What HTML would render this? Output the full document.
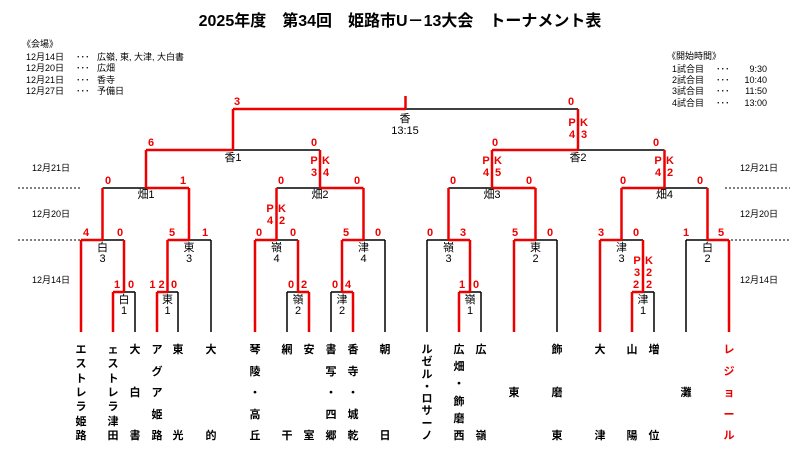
<!DOCTYPE html>
<html><head><meta charset="utf-8"><style>
html,body{margin:0;padding:0;background:#fff;}
svg{display:block;font-family:"Liberation Sans","Noto Sans CJK JP",sans-serif;}
.k{stroke:#000;stroke-width:1.5;fill:none}
.r{stroke:#e00;stroke-width:2.5;fill:none}
.s{fill:#e00;font-size:11px;font-weight:bold;text-anchor:middle}
.l{fill:#000;font-size:11px;text-anchor:middle}
.n{fill:#000;font-size:11px;text-anchor:middle;font-weight:bold}
.i{fill:#000;font-size:9px}
</style></head><body>
<svg width="800" height="456" viewBox="0 0 800 456" xmlns="http://www.w3.org/2000/svg">
<text x="400" y="26" style="font-size:16px;font-weight:bold;text-anchor:middle">2025年度　第34回　姫路市U－13大会　トーナメント表</text>
<g class="i">
<text x="22" y="47">《会場》</text>
<text x="26" y="60">12月14日</text><text x="76" y="60">･･･</text><text x="97" y="60">広嶺, 東, 大津, 大白書</text>
<text x="26" y="71">12月20日</text><text x="76" y="71">･･･</text><text x="97" y="71">広畑</text>
<text x="26" y="83">12月21日</text><text x="76" y="83">･･･</text><text x="97" y="83">香寺</text>
<text x="26" y="94">12月27日</text><text x="76" y="94">･･･</text><text x="97" y="94">予備日</text>
<text x="667" y="59">《開始時間》</text>
<text x="672" y="72">1試合目</text><text x="716" y="72">･･･</text><text x="767" y="72" text-anchor="end">9:30</text>
<text x="672" y="83">2試合目</text><text x="716" y="83">･･･</text><text x="767" y="83" text-anchor="end">10:40</text>
<text x="672" y="94">3試合目</text><text x="716" y="94">･･･</text><text x="767" y="94" text-anchor="end">11:50</text>
<text x="672" y="106">4試合目</text><text x="716" y="106">･･･</text><text x="767" y="106" text-anchor="end">13:00</text>
<text x="32" y="171">12月21日</text><text x="32" y="217">12月20日</text><text x="32" y="283">12月14日</text>
<text x="740" y="171">12月21日</text><text x="740" y="217">12月20日</text><text x="740" y="283">12月14日</text>
</g>
<g stroke="#000" stroke-width="1" stroke-dasharray="2,2">
<line x1="18" y1="188" x2="82" y2="188"/><line x1="18" y1="240" x2="82" y2="240"/>
<line x1="725" y1="188" x2="790" y2="188"/><line x1="727" y1="240" x2="790" y2="240"/>
</g>
<path class="k" d="M124 292H135M102.5 240H124M167.5 292H178M189 240H211M102.5 188H146M287 292H298M276.5 240H298M331 292H342M363.5 240H385M276.5 188H320M233 150H320M470 292H481M427 240H448.5M535.5 240H557M448.5 188H492M643 292H654M621.5 240H643M686 240H707.5M664.5 188H707.5M578 150H664.5M405.5 109H578
M135 292V332M178 292V332M211 240V332M287 292V332M331 292V332M385 240V332M427 240V332M481 292V332M557 240V332M654 292V332M686 240V332"/>
<path class="r" d="M113 292H124M81 240H102.5M157 292H167.5M167.5 240H189M146 188H189M298 292H309M255 240H276.5M342 292H353M342 240H363.5M320 188H363.5M146 150H233M459 292H470M448.5 240H470M514 240H535.5M492 188H535.5M632 292H643M600 240H621.5M707.5 240H729M621.5 188H664.5M492 150H578M233 109H405.5
M81 240V332M113 292V332M157 292V332M255 240V332M309 292V332M353 292V332M459 292V332M514 240V332M600 240V332M632 292V332M729 240V332
M124 240V292M167.5 240V292M298 240V292M342 240V292M470 240V292M643 240V292
M102.5 188V240M189 188V240M276.5 188V240M363.5 188V240M448.5 188V240M535.5 188V240M621.5 188V240M707.5 188V240
M146 150V188M320 150V188M492 150V188M664.5 150V188M233 109V150M578 109V150M405.5 96V109"/>
<g class="s">
<text x="117" y="288">1</text><text x="131" y="288">0</text>
<text x="86" y="236">4</text><text x="120" y="236">0</text>
<text x="157" y="288">1 2</text><text x="174" y="288">0</text>
<text x="172" y="236">5</text><text x="205" y="236">1</text>
<text x="108" y="184">0</text><text x="183" y="184">1</text>
<text x="291" y="288">0</text><text x="304" y="288">2</text>
<text x="259" y="236">0</text><text x="293" y="236">0</text>
<text x="335" y="288">0</text><text x="348" y="288">4</text>
<text x="346" y="236">5</text><text x="378" y="236">0</text>
<text x="281" y="184">0</text><text x="357" y="184">0</text>
<text x="151" y="146">6</text><text x="314" y="146">0</text>
<text x="462" y="288">1</text><text x="476" y="288">0</text>
<text x="430" y="236">0</text><text x="463" y="236">3</text>
<text x="515" y="236">5</text><text x="550" y="236">0</text>
<text x="453" y="184">0</text><text x="529" y="184">0</text>
<text x="636" y="288">2</text><text x="649" y="288">2</text>
<text x="601" y="236">3</text><text x="636" y="236">0</text>
<text x="686" y="236">1</text><text x="721" y="236">5</text>
<text x="623" y="184">0</text><text x="700" y="184">0</text>
<text x="495" y="146">0</text><text x="656" y="146">0</text>
<text x="237" y="105">3</text><text x="571" y="105">0</text>
<text x="314" y="164">P</text><text x="326" y="164">K</text><text x="314" y="176">3</text><text x="326" y="176">4</text>
<text x="270" y="212">P</text><text x="282" y="212">K</text><text x="270" y="224">4</text><text x="282" y="224">2</text>
<text x="486" y="164">P</text><text x="498" y="164">K</text><text x="486" y="176">4</text><text x="498" y="176">5</text>
<text x="658" y="164">P</text><text x="670" y="164">K</text><text x="658" y="176">4</text><text x="670" y="176">2</text>
<text x="572" y="126">P</text><text x="584" y="126">K</text><text x="572" y="138">4</text><text x="584" y="138">3</text>
<text x="637" y="264">P</text><text x="649" y="264">K</text><text x="637" y="276">3</text><text x="649" y="276">2</text>
</g>
<g class="l">
<text x="405" y="122">香</text><text x="405" y="134">13:15</text>
<text x="233" y="161">香1</text><text x="578" y="161">香2</text>
<text x="146" y="198">畑1</text><text x="320" y="198">畑2</text><text x="492" y="198">畑3</text><text x="664.5" y="198">畑4</text>
<text x="102.5" y="251">白</text><text x="102.5" y="262">3</text>
<text x="189" y="251">東</text><text x="189" y="262">3</text>
<text x="276.5" y="251">嶺</text><text x="276.5" y="262">4</text>
<text x="363.5" y="251">津</text><text x="363.5" y="262">4</text>
<text x="448.5" y="251">嶺</text><text x="448.5" y="262">3</text>
<text x="535.5" y="251">東</text><text x="535.5" y="262">2</text>
<text x="621.5" y="251">津</text><text x="621.5" y="262">3</text>
<text x="707.5" y="251">白</text><text x="707.5" y="262">2</text>
<text x="124" y="303">白</text><text x="124" y="314">1</text>
<text x="167.5" y="303">東</text><text x="167.5" y="314">1</text>
<text x="298" y="303">嶺</text><text x="298" y="314">2</text>
<text x="342" y="303">津</text><text x="342" y="314">2</text>
<text x="470" y="303">嶺</text><text x="470" y="314">1</text>
<text x="643" y="303">津</text><text x="643" y="314">1</text>
</g>
<g class="n">
<text x="81" y="353">エ</text><text x="81" y="367">ス</text><text x="81" y="382">ト</text><text x="81" y="396">レ</text><text x="81" y="410">ラ</text><text x="81" y="425">姫</text><text x="81" y="439">路</text>
<text x="113" y="353">ェ</text><text x="113" y="367">ス</text><text x="113" y="382">ト</text><text x="113" y="396">レ</text><text x="113" y="410">ラ</text><text x="113" y="425">津</text><text x="113" y="439">田</text>
<text x="135" y="353">大</text><text x="135" y="396">白</text><text x="135" y="439">書</text>
<text x="157" y="353">ア</text><text x="157" y="375">グ</text><text x="157" y="396">ア</text><text x="157" y="418">姫</text><text x="157" y="439">路</text>
<text x="178" y="353">東</text><text x="178" y="439">光</text>
<text x="211" y="353">大</text><text x="211" y="439">的</text>
<text x="255" y="353">琴</text><text x="255" y="375">陵</text><text x="255" y="396">・</text><text x="255" y="418">高</text><text x="255" y="439">丘</text>
<text x="287" y="353">網</text><text x="287" y="439">干</text>
<text x="309" y="353">安</text><text x="309" y="439">室</text>
<text x="331" y="353">書</text><text x="331" y="375">写</text><text x="331" y="396">・</text><text x="331" y="418">四</text><text x="331" y="439">郷</text>
<text x="353" y="353">香</text><text x="353" y="375">寺</text><text x="353" y="396">・</text><text x="353" y="418">城</text><text x="353" y="439">乾</text>
<text x="385" y="353">朝</text><text x="385" y="439">日</text>
<text x="427" y="353">ル</text><text x="427" y="365">ゼ</text><text x="427" y="378">ル</text><text x="427" y="390">・</text><text x="427" y="402">ロ</text><text x="427" y="414">サ</text><text x="427" y="427">ー</text><text x="427" y="439">ノ</text>
<text x="459" y="353">広</text><text x="459" y="370">畑</text><text x="459" y="387">・</text><text x="459" y="405">飾</text><text x="459" y="422">磨</text><text x="459" y="439">西</text>
<text x="481" y="353">広</text><text x="481" y="439">嶺</text>
<text x="514" y="396">東</text>
<text x="557" y="353">飾</text><text x="557" y="396">磨</text><text x="557" y="439">東</text>
<text x="600" y="353">大</text><text x="600" y="439">津</text>
<text x="632" y="353">山</text><text x="632" y="439">陽</text>
<text x="654" y="353">増</text><text x="654" y="439">位</text>
<text x="686" y="396">灘</text>
<g fill="#e00"><text x="729" y="353" fill="#e00">レ</text><text x="729" y="375" fill="#e00">ジ</text><text x="729" y="396" fill="#e00">ョ</text><text x="729" y="418" fill="#e00">ー</text><text x="729" y="439" fill="#e00">ル</text></g>
</g>
</svg>
</body></html>
